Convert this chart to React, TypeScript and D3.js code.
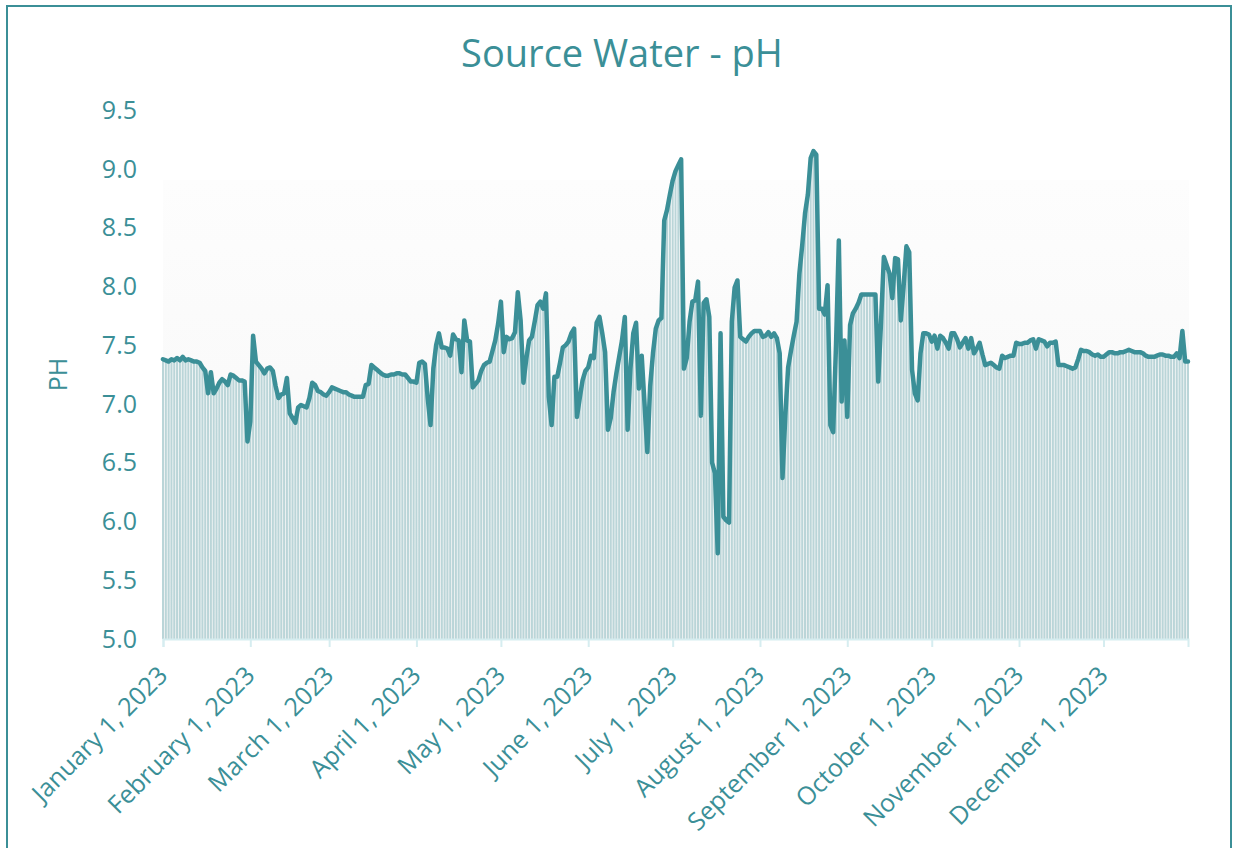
import React, { useEffect, useRef } from "react";
import * as d3 from "d3";

// daily pH readings, one array per month of 2023
const jan = [7.38, 7.37, 7.36, 7.38, 7.37, 7.39, 7.37, 7.4, 7.37, 7.38, 7.37, 7.36, 7.36, 7.35, 7.31, 7.28, 7.09, 7.27, 7.09, 7.13, 7.18, 7.21, 7.19, 7.16, 7.25, 7.24, 7.22, 7.2, 7.2, 7.19, 6.68];
const feb = [6.85, 7.58, 7.36, 7.33, 7.3, 7.26, 7.3, 7.31, 7.28, 7.15, 7.05, 7.08, 7.09, 7.22, 6.92, 6.88, 6.84, 6.97, 6.99, 6.98, 6.97, 7.05, 7.18, 7.16, 7.11, 7.1, 7.08, 7.07];
const mar = [7.1, 7.14, 7.13, 7.12, 7.11, 7.1, 7.1, 7.08, 7.07, 7.06, 7.06, 7.06, 7.06, 7.16, 7.17, 7.33, 7.31, 7.29, 7.27, 7.25, 7.24, 7.24, 7.25, 7.25, 7.26, 7.26, 7.25, 7.25, 7.22, 7.19, 7.19];
const apr = [7.18, 7.35, 7.36, 7.34, 7.05, 6.82, 7.3, 7.5, 7.6, 7.48, 7.48, 7.47, 7.41, 7.59, 7.55, 7.54, 7.27, 7.71, 7.54, 7.53, 7.14, 7.17, 7.2, 7.28, 7.33, 7.35, 7.36, 7.45, 7.54, 7.68];
const may = [7.87, 7.44, 7.57, 7.55, 7.56, 7.61, 7.95, 7.71, 7.18, 7.38, 7.54, 7.57, 7.7, 7.84, 7.87, 7.81, 7.94, 7.06, 6.82, 7.23, 7.23, 7.35, 7.48, 7.5, 7.53, 7.6, 7.64, 6.89, 7.05, 7.2, 7.28];
const jun = [7.31, 7.41, 7.39, 7.69, 7.74, 7.6, 7.44, 6.78, 6.88, 7.1, 7.26, 7.4, 7.54, 7.74, 6.78, 7.3, 7.6, 7.69, 7.13, 7.41, 7.0, 6.59, 7.15, 7.43, 7.64, 7.71, 7.73, 8.56, 8.65, 8.78];
const jul = [8.9, 8.98, 9.03, 9.08, 7.3, 7.39, 7.7, 7.87, 7.88, 8.04, 6.9, 7.86, 7.89, 7.74, 6.5, 6.41, 5.73, 7.6, 6.04, 6.01, 5.99, 7.7, 7.99, 8.05, 7.57, 7.55, 7.53, 7.57, 7.6, 7.62, 7.62];
const aug = [7.62, 7.57, 7.58, 7.61, 7.57, 7.6, 7.56, 7.43, 6.37, 6.9, 7.31, 7.45, 7.58, 7.7, 8.11, 8.35, 8.62, 8.78, 9.09, 9.15, 9.12, 7.81, 7.81, 7.76, 8.01, 6.82, 6.76, 7.5, 8.39, 7.02, 7.54];
const sep = [6.89, 7.67, 7.77, 7.81, 7.86, 7.93, 7.93, 7.93, 7.93, 7.93, 7.93, 7.19, 7.7, 8.25, 8.18, 8.11, 7.9, 8.24, 8.23, 7.71, 8.0, 8.34, 8.29, 7.29, 7.09, 7.03, 7.43, 7.6, 7.6, 7.59];
const oct = [7.53, 7.58, 7.47, 7.58, 7.56, 7.52, 7.47, 7.6, 7.6, 7.55, 7.48, 7.52, 7.56, 7.47, 7.56, 7.43, 7.47, 7.52, 7.42, 7.33, 7.34, 7.35, 7.33, 7.31, 7.3, 7.41, 7.39, 7.4, 7.41, 7.41, 7.52];
const nov = [7.51, 7.51, 7.52, 7.52, 7.54, 7.55, 7.47, 7.55, 7.54, 7.53, 7.49, 7.52, 7.52, 7.53, 7.33, 7.33, 7.33, 7.32, 7.31, 7.3, 7.31, 7.38, 7.46, 7.45, 7.45, 7.44, 7.42, 7.41, 7.42, 7.4];
const dec = [7.4, 7.42, 7.44, 7.44, 7.43, 7.43, 7.44, 7.44, 7.45, 7.46, 7.45, 7.44, 7.44, 7.44, 7.43, 7.41, 7.4, 7.4, 7.4, 7.41, 7.42, 7.42, 7.41, 7.41, 7.4, 7.4, 7.43, 7.39, 7.62, 7.36, 7.36];

const monthLabels = [
  "January 1, 2023",
  "February 1, 2023",
  "March 1, 2023",
  "April 1, 2023",
  "May 1, 2023",
  "June 1, 2023",
  "July 1, 2023",
  "August 1, 2023",
  "September 1, 2023",
  "October 1, 2023",
  "November 1, 2023",
  "December 1, 2023",
];
const yTicks = [5.0, 5.5, 6.0, 6.5, 7.0, 7.5, 8.0, 8.5, 9.0, 9.5];

const title = "Source Water - pH";
const yLabel = "PH";

const teal = "#3b8f97";
const font = "'Open Sans', sans-serif";

type Point = { date: Date; value: number };

export default function App() {
  const ref = useRef<SVGSVGElement>(null);

  useEffect(() => {
    const width = 1234;
    const height = 848;
    const margin = { top: 110, right: 46, bottom: 209, left: 163 };

    const svg = d3.select(ref.current);
    svg.selectAll("*").remove();

    const data: Point[] = [];
    [jan, feb, mar, apr, may, jun, jul, aug, sep, oct, nov, dec].forEach(
      (month, m) => {
        month.forEach((v, i) => {
          data.push({ date: new Date(2023, m, i + 1), value: v });
        });
      }
    );

    const x = d3
      .scaleTime()
      .domain([data[0].date, data[data.length - 1].date])
      .range([margin.left, width - margin.right]);
    const y = d3
      .scaleLinear()
      .domain([5, 9.5])
      .range([height - margin.bottom, margin.top]);

    // outer frame
    svg
      .append("rect")
      .attr("x", 7)
      .attr("y", 6)
      .attr("width", 1224)
      .attr("height", 900)
      .attr("fill", "none")
      .attr("stroke", teal)
      .attr("stroke-width", 2);

    // plot background
    const grad = svg
      .append("defs")
      .append("linearGradient")
      .attr("id", "bg")
      .attr("x1", 0)
      .attr("x2", 0)
      .attr("y1", 0)
      .attr("y2", 1);
    grad.append("stop").attr("offset", "0%").attr("stop-color", "#fdfdfd");
    grad.append("stop").attr("offset", "100%").attr("stop-color", "#f6f6f6");

    svg
      .append("rect")
      .attr("x", margin.left)
      .attr("y", 180)
      .attr("width", width - margin.right - margin.left + 1)
      .attr("height", y(5) - 180)
      .attr("fill", "url(#bg)");

    // daily bars under the line
    const step = x(new Date(2023, 0, 2)) - x(new Date(2023, 0, 1));
    svg
      .append("g")
      .selectAll("rect")
      .data(data)
      .enter()
      .append("rect")
      .attr("x", (d) => x(d.date) - step / 2 + 0.4)
      .attr("y", (d) => y(d.value))
      .attr("width", step - 0.8)
      .attr("height", (d) => y(5) - y(d.value))
      .attr("fill", "#bad5d8");

    // x axis
    const xAxis = svg
      .append("g")
      .attr("transform", `translate(0, ${y(5)})`)
      .call(
        d3
          .axisBottom(x)
          .tickValues(d3.range(12).map((m) => new Date(2023, m, 1)))
          .tickSize(8)
          .tickSizeOuter(8)
          .tickFormat(() => "")
      );
    xAxis.selectAll("path, line").attr("stroke", "#d6edf0").attr("stroke-width", 2);

    svg
      .append("g")
      .selectAll("text")
      .data(monthLabels)
      .enter()
      .append("text")
      .attr(
        "transform",
        (d, i) => `translate(${x(new Date(2023, i, 1)) + 6}, ${y(5) + 38}) rotate(-45)`
      )
      .attr("text-anchor", "end")
      .attr("font-family", font)
      .attr("font-size", 25)
      .attr("fill", teal)
      .text((d) => d);

    // y tick labels
    svg
      .append("g")
      .selectAll("text")
      .data(yTicks)
      .enter()
      .append("text")
      .attr("x", 137)
      .attr("y", (d) => y(d))
      .attr("dy", "0.35em")
      .attr("text-anchor", "end")
      .attr("font-family", font)
      .attr("font-size", 25)
      .attr("fill", teal)
      .text((d) => d3.format(".1f")(d));

    // line
    svg
      .append("path")
      .datum(data)
      .attr("fill", "none")
      .attr("stroke", teal)
      .attr("stroke-width", 4.5)
      .attr("stroke-linejoin", "round")
      .attr("stroke-linecap", "round")
      .attr(
        "d",
        d3
          .line<Point>()
          .x((d) => x(d.date))
          .y((d) => y(d.value))
      );

    svg
      .append("text")
      .attr("transform", `translate(67, ${(y(5) + y(9.5)) / 2}) rotate(-90)`)
      .attr("text-anchor", "middle")
      .attr("font-family", font)
      .attr("font-size", 25)
      .attr("fill", teal)
      .text(yLabel);

    svg
      .append("text")
      .attr("x", 622)
      .attr("y", 67)
      .attr("text-anchor", "middle")
      .attr("font-family", font)
      .attr("font-size", 38)
      .attr("fill", teal)
      .text(title);
  }, []);

  return (
    <div style={{ position: "absolute", left: 0, top: 0 }}>
      <svg ref={ref} width={1234} height={848} style={{ display: "block" }} />
    </div>
  );
}
